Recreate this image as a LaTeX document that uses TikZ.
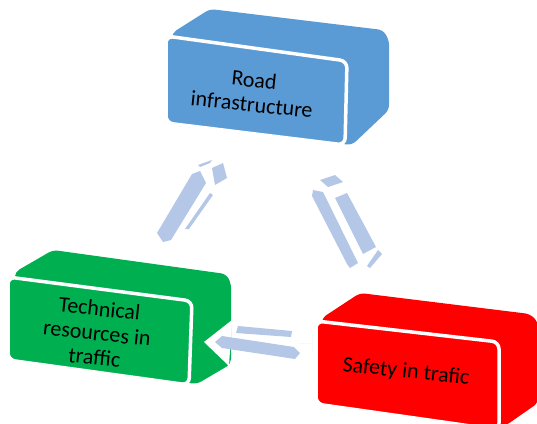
\documentclass[tikz,border=0pt]{standalone}
\usepackage{fontspec}
\setmainfont{Carlito}
\definecolor{bluebox}{HTML}{5B9BD5}
\definecolor{greenbox}{HTML}{00B050}
\definecolor{redbox}{HTML}{FF0000}
\definecolor{arrowblue}{HTML}{B4C7E7}
\begin{document}
\begin{tikzpicture}[x=1pt,y=-1pt,
  backface/.style={rounded corners=5pt},
  frontface/.style={draw=white,line width=3.5pt,rounded corners=7pt},
  boxtext/.style={align=center,font=\fontsize{22}{24.5}\selectfont,text=black,rotate=-6},
  arrowpart/.style={fill=arrowblue}]
\useasboundingbox (0,0) rectangle (537,423);
% ---------- Road infrastructure (blue)
\fill[bluebox,backface] (172,33) -- (210,9) -- (383,30) -- (389,40) -- (389,110) -- (352,145) -- (170,125) -- cycle;
\filldraw[fill=bluebox,frontface] (166,36) -- (347,61) -- (345,145) -- (166,123) -- cycle;
\node[boxtext] (road) at (253,92) {Road\\infrastructure};
% ---------- Technical resources (green)
\fill[greenbox,backface] (15,272) -- (53,250) -- (226,274) -- (231,283) -- (231,364) -- (197,384) -- (12,360) -- cycle;
\filldraw[fill=greenbox,frontface] (8,277) -- (192,301) -- (189,385) -- (8,360) -- cycle;
\node[boxtext] (tech) at (97,333) {Technical\\resources in\\traffic};
% ---------- Safety in trafic (red)
\fill[redbox,backface] (322,318) -- (360,293) -- (530,314) -- (538,322) -- (538,403) -- (505,426) -- (320,405) -- cycle;
\filldraw[fill=redbox,frontface] (316,321) -- (499,342) -- (499,430) -- (316,404) -- cycle;
\node[boxtext] (safe) at (406,372) {Safety in trafic};
% ---------- connector: tech <-> road
\coordinate (a1s) at (162,237);
\coordinate (a1e) at (213,172);
\fill[arrowpart] (a1s) ++(-5,-4) -- ++(6,9) -- ++(8,-2) -- (206,183) -- (200,171) -- (192,174) -- cycle;
\fill[arrowpart] (185,229) -- (189,229) -- (213,195) -- (210,193) -- cycle;
\fill[arrowpart] (198,165) -- (212,160) -- (210,163) -- (200,167) -- cycle;
\fill[arrowpart] (a1e) ++(-1,-4) -- ++(11,-5) -- ++(4,15) -- ++(-12,7) -- cycle;
% ---------- connector: road <-> safe
\coordinate (a2s) at (331,181);
\coordinate (a2e) at (374,259);
\fill[arrowpart] (320,180) -- (335,175) -- (343,182) -- (328,187) -- cycle;
\fill[arrowpart] (313,190) -- (323,192) -- (358,263) -- (350,268) -- (347,264) -- (312,196) -- cycle;
\fill[arrowpart] (335,198) -- (347,193) -- (376,247) -- (363,254) -- cycle;
\fill[arrowpart] (367,266) -- (378,250) -- (382,254) -- (370,268) -- cycle;
% ---------- connector: tech <-> safe
\coordinate (a3s) at (215,342);
\coordinate (a3e) at (311,343);
\fill[white] (232,320) -- (204,342) -- (229,366) -- cycle;
\fill[arrowpart] (238,326) -- (292,331) -- (291,337) -- (236,333) -- cycle;
\fill[arrowpart] (a3s) -- (222,336) -- (294,347) -- (300,353) -- (295,359) -- (222,348) -- cycle;
\fill[arrowpart] (299,343) -- (a3e) ++(1,-9) -- (312,352) -- cycle;
\end{tikzpicture}
\end{document}
